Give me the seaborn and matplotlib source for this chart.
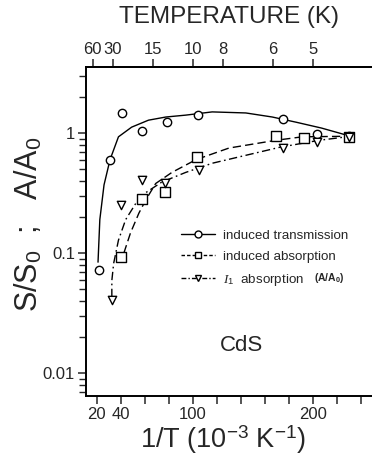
import numpy as np
import matplotlib
matplotlib.use("Agg")
import matplotlib.pyplot as plt
from matplotlib.lines import Line2D
from matplotlib.ticker import FixedLocator, FixedFormatter, LogLocator, NullFormatter
import seaborn as sns

## measured points (1/T in 1e-3 K^-1)
trans_x = [21.5, 31, 41, 58, 78, 104, 175, 203, 230]
trans_y = [0.072, 0.60, 1.47, 1.04, 1.23, 1.41, 1.31, 0.98, 0.95]
absn_x = [40, 58, 77, 103, 169, 192, 230]
absn_y = [0.093, 0.28, 0.32, 0.63, 0.94, 0.91, 0.93]
i1_x = [33, 40, 58, 77, 105, 175, 203, 230]
i1_y = [0.041, 0.25, 0.41, 0.38, 0.49, 0.75, 0.84, 0.93]

## hand drawn fit curves
trans_fit_x = [21, 22.5, 26, 31, 38, 49, 63, 77.5, 94, 116, 144, 166, 186, 207, 228]
trans_fit_y = [0.084, 0.19, 0.37, 0.60, 0.93, 1.12, 1.28, 1.36, 1.41, 1.50, 1.47, 1.36, 1.23, 1.10, 0.96]
absn_fit_x = [42.5, 48, 55, 61, 69, 82.5, 102.5, 130, 169, 191, 228]
absn_fit_y = [0.10, 0.147, 0.215, 0.28, 0.38, 0.47, 0.60, 0.75, 0.87, 0.93, 0.94]
i1_fit_x = [32.5, 32.5, 34, 38, 44, 52.5, 61, 74, 94, 116, 172, 205, 228]
i1_fit_y = [0.043, 0.059, 0.082, 0.128, 0.19, 0.26, 0.32, 0.39, 0.47, 0.56, 0.76, 0.87, 0.93]

## axis ticks
bottom_ticks = [20, 40, 60, 80, 100, 120, 140, 160, 180, 200, 220, 240]
bottom_labels = ["20", "40", "", "", "100", "", "", "", "", "200", "", ""]
top_temps = [60, 30, 15, 10, 8, 6, 5]
y_ticks = [0.01, 0.1, 1]
y_labels = ["0.01", "0.1", "1"]

sns.set_style("ticks")
plt.rcParams['font.family'] = ['Liberation Sans', 'DejaVu Sans']
plt.rcParams['mathtext.fontset'] = 'custom'
plt.rcParams['mathtext.rm'] = 'Liberation Sans'
plt.rcParams['mathtext.it'] = 'Liberation Serif:italic'
plt.rcParams['mathtext.bf'] = 'Liberation Sans:bold'

fig = plt.figure(figsize=(3.72, 4.62), dpi=100)
ax = fig.add_axes([0.2312, 0.1429, 0.7688, 0.7121])

lw = 1.0
sns.lineplot(x=trans_fit_x, y=trans_fit_y, ax=ax, color="black", lw=lw, sort=False,
             estimator=None)
sns.lineplot(x=absn_fit_x, y=absn_fit_y, ax=ax, color="black", lw=lw, sort=False,
             estimator=None, linestyle=(0, (6, 3)))
sns.lineplot(x=i1_fit_x, y=i1_fit_y, ax=ax, color="black", lw=lw, sort=False,
             estimator=None, linestyle=(0, (6, 2.5, 1.2, 2.5)))

sns.scatterplot(x=trans_x, y=trans_y, ax=ax, marker="o", s=36, facecolor="white",
                edgecolor="black", linewidth=1.0, zorder=5)
sns.scatterplot(x=absn_x, y=absn_y, ax=ax, marker="s", s=44, facecolor="white",
                edgecolor="black", linewidth=1.0, zorder=5)
sns.scatterplot(x=i1_x, y=i1_y, ax=ax, marker="v", s=36, facecolor="white",
                edgecolor="black", linewidth=1.0, zorder=5)

ax.set_yscale("log")
ax.set_xlim(11, 249)
ax.set_ylim(0.00645, 3.55)

ax.yaxis.set_major_locator(FixedLocator(y_ticks))
ax.yaxis.set_major_formatter(FixedFormatter(y_labels))
ax.yaxis.set_minor_locator(LogLocator(base=10, subs=np.arange(2, 10)))
ax.yaxis.set_minor_formatter(NullFormatter())

ax.xaxis.set_major_locator(FixedLocator(bottom_ticks))
ax.xaxis.set_major_formatter(FixedFormatter(bottom_labels))

ax.tick_params(axis="both", which="major", direction="out", length=6, width=1.1,
               labelsize=12, pad=2)
ax.tick_params(axis="y", which="minor", direction="out", length=5, width=1.0)

for s in ["left", "bottom", "top"]:
    ax.spines[s].set_linewidth(1.4)
    ax.spines[s].set_color("black")
ax.spines["right"].set_visible(False)

# top axis in temperature
top = ax.secondary_xaxis("top")
top.set_xticks([1000.0 / t for t in top_temps])
top.set_xticklabels([str(t) for t in top_temps])
top.tick_params(direction="out", length=6, width=1.1, labelsize=12, pad=1)
top.spines["top"].set_linewidth(1.4)

ax.set_xlabel("")
ax.set_ylabel("")

fig.text(0.615, 0.963, "TEMPERATURE (K)", ha="center", va="center", fontsize=17.5)
fig.text(0.60, 0.048, r"1/T (10$^{-3}$ K$^{-1}$)", ha="center", va="center", fontsize=19.5)
fig.text(0.078, 0.515, r"S/S$_0$  ;   A/A$_0$", ha="center", va="center",
         fontsize=22, rotation=90)

ax.text(140, 0.017, "CdS", ha="center", va="center", fontsize=16)

handles = [
    Line2D([], [], color="black", lw=lw, marker="o", markersize=5,
           markerfacecolor="white", markeredgecolor="black"),
    Line2D([], [], color="black", lw=lw, linestyle=(0, (2.5, 1.5)), marker="s",
           markersize=5, markerfacecolor="white", markeredgecolor="black"),
    Line2D([], [], color="black", lw=lw, linestyle=(0, (3.5, 1.5, 1, 1.5)), marker="v",
           markersize=5, markerfacecolor="white", markeredgecolor="black"),
]
labels = ["induced transmission", "induced absorption", r"$I_1$  absorption"]
leg = ax.legend(handles, labels, loc="upper left", bbox_to_anchor=(0.31, 0.527),
                frameon=False, fontsize=9.6, handlelength=2.5, handletextpad=0.6,
                labelspacing=0.66, borderpad=0, numpoints=1)
ax.text(0.85, 0.36, r"$\mathbf{(A/A_0)}$", transform=ax.transAxes, fontsize=7.5,
        ha="center", va="center")

fig.savefig("out.png", dpi=100)
